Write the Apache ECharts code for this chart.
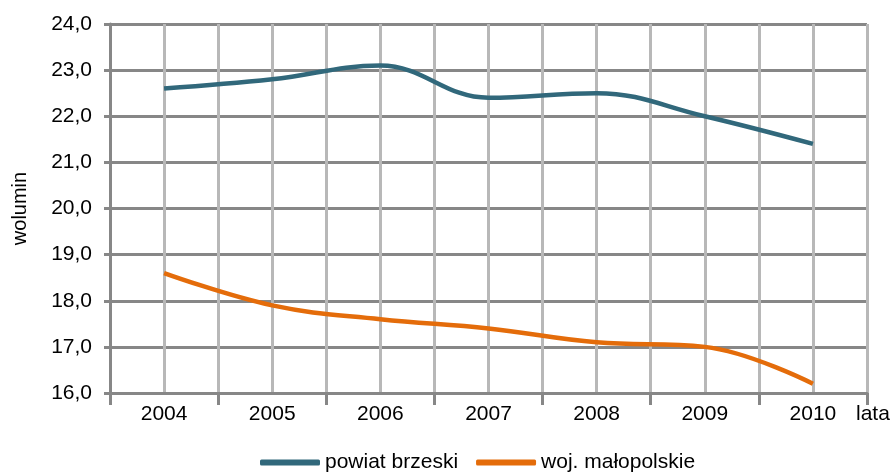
<!DOCTYPE html>
<html><head><meta charset="utf-8">
<script src="https://cdn.jsdelivr.net/npm/echarts@6/dist/echarts.min.js"></script>
<style>html,body{margin:0;padding:0;background:#fff}#c{width:893px;height:472px}</style>
</head><body><div id="c"></div>
<script>
var years = ['2004','2005','2006','2007','2008','2009','2010'];
var powiatBrzeski = [22.6, 22.8, 23.1, 22.4, 22.5, 22.0, 21.4];
var wojMalopolskie = [18.6, 17.9, 17.6, 17.4, 17.1, 17.0, 16.2];
var seriesNames = ['powiat brzeski', 'woj. małopolskie'];

var font = 'Liberation Sans, Arial, sans-serif';
var chart = echarts.init(document.getElementById('c'));
chart.setOption({
  animation: false,
  grid: {left: 110, right: 26, top: 24, bottom: 79, containLabel: false},
  legend: {
    top: 447, left: 255,
    data: seriesNames,
    icon: 'roundRect', itemWidth: 60, itemHeight: 6, itemGap: 18,
    textStyle: {fontFamily: font, fontSize: 21, color: '#000'}
  },
  xAxis: [{
    type: 'category', data: years, boundaryGap: true,
    name: 'lata', nameLocation: 'end', nameGap: -11,
    nameTextStyle: {fontFamily: font, fontSize: 21, color: '#000', verticalAlign: 'top', align: 'left', padding: [11,0,0,0]},
    axisLine: {lineStyle: {color: '#878787', width: 3}},
    axisTick: {show: true, length: 12, lineStyle: {color: '#878787', width: 3}},
    axisLabel: {fontFamily: font, fontSize: 21, color: '#000', margin: 11},
    splitLine: {show: false}
  }, {
    type: 'value', min: -0.5, max: 6.5, interval: 0.5, show: true, position: 'bottom',
    axisLine: {show: false}, axisTick: {show: false}, axisLabel: {show: false},
    splitLine: {show: true, lineStyle: {color: '#b8b8b8', width: 3}}
  }],
  yAxis: {
    type: 'value', min: 16, max: 24, interval: 1,
    name: 'wolumin', nameLocation: 'middle', nameGap: 80, nameRotate: 90,
    nameTextStyle: {fontFamily: font, fontSize: 20, color: '#000'},
    axisLine: {show: true, onZero: false, lineStyle: {color: '#878787', width: 3}},
    axisTick: {show: true, length: 6, lineStyle: {color: '#878787', width: 3}},
    axisLabel: {fontFamily: font, fontSize: 21, color: '#000', margin: 18,
      formatter: function (v) { return v.toFixed(1).replace('.', ','); }},
    splitLine: {show: true, lineStyle: {color: '#878787', width: 3}}
  },
  series: [{
    name: seriesNames[0], type: 'line', data: powiatBrzeski, smooth: 0.4,
    showSymbol: false, symbol: 'none', z: 5,
    lineStyle: {color: '#31687b', width: 4.5}, itemStyle: {color: '#31687b'}
  }, {
    name: seriesNames[1], type: 'line', data: wojMalopolskie, smooth: 0.4,
    showSymbol: false, symbol: 'none', z: 5,
    lineStyle: {color: '#e46c0a', width: 4.5}, itemStyle: {color: '#e46c0a'}
  }]
});
</script></body></html>
